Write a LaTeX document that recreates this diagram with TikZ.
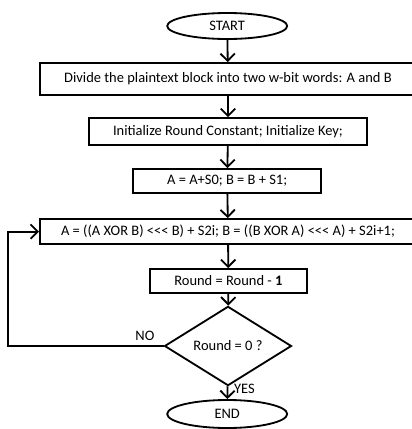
\documentclass[tikz,border=0pt]{standalone}
\usepackage{fontspec}
\setmainfont{Carlito}
\usetikzlibrary{
    arrows.meta,
    shapes.geometric,
    positioning
}
\tikzset{
    block/.style={draw, rectangle, line width=1.3pt, inner sep=0pt},
    term/.style={draw, ellipse, line width=1.3pt, minimum width=3cm, minimum height=0.65cm, inner sep=0pt},
    decide/.style={draw, diamond, line width=1.3pt, minimum width=3.175cm, minimum height=1.35cm, inner sep=0pt},
    flow/.style={->, line width=1.3pt}
}

\begin{document}
\begin{tikzpicture}[>={Straight Barb[length=1.8mm, width=3.6mm]}, font=\fontsize{10.3}{12}\selectfont]
    \useasboundingbox (0, 0) rectangle (10.3, -10.725);
    \clip (0, 0) rectangle (10.3, -10.725);
    \node[term] (start) at (5.68, -0.65) {START};
    \node[block, minimum width=9.4cm, minimum height=0.8cm] (split) at (5.7, -1.975)
        {Divide the plaintext block into two w-bit words: A and B};
    \node[block, minimum width=6.95cm, minimum height=0.675cm] (init) at (5.7, -3.29)
        {Initialize Round Constant; Initialize Key;};
    \node[block, minimum width=4.7cm, minimum height=0.6cm] (add) at (5.68, -4.525)
        {A = A+S0; B = B + S1;};
    \node[block, minimum width=9.4cm, minimum height=0.625cm] (round) at (5.7, -5.79)
        {A = ((A XOR B) <{}<{}< B) + S2i; B = ((B XOR A) <{}<{}< A) + S2i+1;};
    \node[block, minimum width=3.925cm, minimum height=0.6cm] (dec) at (5.71, -7.025)
        {Round = Round - \textbf{1}};
    \node[decide] (test) at (5.7, -8.65) {Round = 0 ?};
    \node[term, minimum height=0.7cm] (stop) at (5.68, -10.35) {END};
    \coordinate (back) at (0.2, -8.65);

    \draw[flow] (start) -- (split);
    \draw[flow] (split) -- (init);
    \draw[flow] (init) -- (add);
    \draw[flow] (add) -- (round);
    \draw[flow] (round) -- (dec);
    \draw[flow] (dec) -- (test);
    \draw[flow] (test) -- node[right, inner sep=4pt, pos=0.2] {YES} (stop);
    \draw[flow] (test.west) -- node[above, pos=0.12] {NO} (back) |- (round.west);
\end{tikzpicture}
\end{document}
